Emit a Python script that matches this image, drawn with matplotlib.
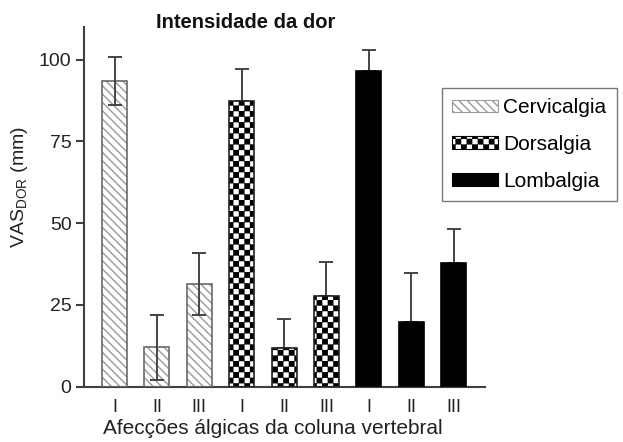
import warnings
import numpy as np
import matplotlib
matplotlib.use("Agg")
import matplotlib.pyplot as plt
from matplotlib import hatch as mhatch
from matplotlib.path import Path
from matplotlib.patches import Patch

warnings.filterwarnings("ignore")

# ---------------- Dados ----------------
groups = ["Cervicalgia", "Dorsalgia", "Lombalgia"]
tick_labels = ["I", "II", "III", "I", "II", "III", "I", "II", "III"]
means = [93.5, 12.0, 31.3, 87.5, 11.9, 27.7, 96.6, 19.9, 37.7]
errs = [7.3, 9.9, 9.5, 9.6, 8.7, 10.3, 6.4, 14.8, 10.4]
group_of_bar = [0, 0, 0, 1, 1, 1, 2, 2, 2]


# ---------------- Hatch xadrez ----------------
class Checker(mhatch.HatchPatternBase):
    def __init__(self, hatch, density):
        self.n = 18 if "#" in hatch else 0
        self.num_vertices = (self.n * self.n // 2) * 5

    def set_vertices_and_codes(self, vertices, codes):
        n = self.n
        s = 1.0 / n
        d = s * 0.1
        k = 0
        for i in range(n):
            for j in range(n):
                if (i + j) % 2:
                    continue
                x0, y0 = i * s + d, j * s + d
                x1, y1 = (i + 1) * s - d, (j + 1) * s - d
                vertices[k:k + 5] = [(x0, y0), (x1, y0), (x1, y1), (x0, y1), (x0, y0)]
                codes[k:k + 5] = [Path.MOVETO, Path.LINETO, Path.LINETO,
                                  Path.LINETO, Path.CLOSEPOLY]
                k += 5


mhatch._hatch_types.append(Checker)

plt.rcParams["font.family"] = ["Liberation Sans", "DejaVu Sans"]
plt.rcParams["hatch.linewidth"] = 1.0

styles = [
    dict(facecolor="white", hatch_color="#9a9a9a", hatch="\\\\\\\\", edge="#6a6a6a"),
    dict(facecolor="white", hatch_color="black", hatch="#", edge="#222222"),
    dict(facecolor="black", hatch_color="black", hatch=None, edge="black"),
]

fig = plt.figure(figsize=(6.23, 4.42), dpi=100)
ax = fig.add_axes([84 / 623, 55.3 / 442, 401 / 623, 359.7 / 442])

x = np.arange(len(means))
width = 0.59

for g, name in enumerate(groups):
    idx = [i for i, gg in enumerate(group_of_bar) if gg == g]
    st = styles[g]
    xs = x[idx]
    ms = [means[i] for i in idx]
    es = [errs[i] for i in idx]
    # Cervicalgia mostra os dois lados; barras cheias escondem a parte de baixo
    if g == 0:
        yerr = [es, es]
        zo = 4
    else:
        yerr = [[0] * len(es), es]
        zo = 1
    ax.errorbar(xs, ms, yerr=yerr, fmt="none", ecolor="#444444",
                elinewidth=1.4, capsize=5, capthick=1.4, zorder=zo)
    ax.bar(xs, ms, width=width, color=st["facecolor"], edgecolor=st["hatch_color"],
           hatch=st["hatch"], linewidth=0, zorder=2)
    ax.bar(xs, ms, width=width, fill=False, edgecolor=st["edge"], linewidth=1.2,
           zorder=3)

# ---------------- Legenda ----------------
handles = []
for g, name in enumerate(groups):
    st = styles[g]
    handles.append(Patch(facecolor=st["facecolor"], edgecolor=st["hatch_color"],
                         hatch=st["hatch"], linewidth=0.8, label=name))

leg = fig.legend(handles=handles, loc="upper left",
                 bbox_to_anchor=(442 / 623, 1 - 88 / 442),
                 fontsize=15, frameon=True, fancybox=False,
                 handlelength=2.2, handleheight=0.55, handletextpad=0.25,
                 labelspacing=0.85, borderpad=0.5, borderaxespad=0)
leg.get_frame().set_edgecolor("#555555")
leg.get_frame().set_linewidth(1.0)

ax.set_xlim(-0.72, 8.74)
ax.set_ylim(0, 110)
ax.set_yticks([0, 25, 50, 75, 100])
ax.set_xticks(x)
ax.set_xticklabels(tick_labels)

for side in ["top", "right"]:
    ax.spines[side].set_visible(False)
for side in ["left", "bottom"]:
    ax.spines[side].set_color("#404040")
    ax.spines[side].set_linewidth(1.5)

ax.tick_params(axis="y", length=6, width=1.5, color="#404040", labelsize=14,
               labelcolor="#222222", pad=3)
ax.tick_params(axis="x", length=0, labelsize=13, labelcolor="#222222", pad=9)

fig.text(273 / 623, 1 - 428 / 442, "Afecções álgicas da coluna vertebral",
         ha="center", va="center", fontsize=15, color="#222222")
fig.text(20 / 623, 1 - 187 / 442, r"VAS$_{\mathregular{DOR}}$ (mm)",
         ha="center", va="center", rotation=90, fontsize=14, color="#222222")
fig.text(246 / 623, 1 - 22 / 442, "Intensidade da dor", ha="center", va="center",
         fontsize=14.5, fontweight="bold", color="#111111")

fig.savefig("out.png", dpi=100)
